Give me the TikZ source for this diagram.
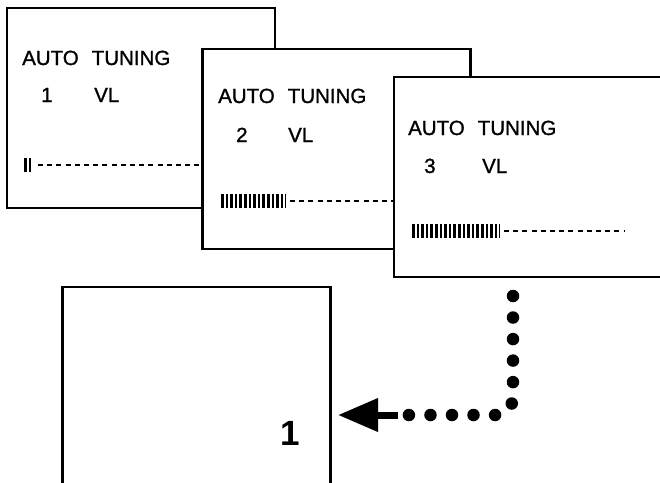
\documentclass[tikz,border=0pt]{standalone}
\usepackage{fontspec}
\setmainfont{Liberation Sans}
\newfontfamily\lcdfont{Liberation Sans}[RawFeature={embolden=1.2}]
\usetikzlibrary{arrows.meta}

\begin{document}
\begin{tikzpicture}[x=1pt,y=-1pt,
  screen/.style={draw, fill=white, line width=2.2pt, minimum width=268pt, minimum height=200pt, inner sep=0pt},
  lcd/.style={inner sep=0pt, anchor=base west, font=\lcdfont\fontsize{20.5}{24}\selectfont},
  bars/.style={line width=14pt, dash pattern=on 2.6pt off 2pt},
  dashes/.style={line width=2.5pt, dash pattern=on 5pt off 4.2pt},
  dots/.style={line width=12.5pt, line cap=round, dash pattern=on 0pt off 21.53pt, rounded corners=18pt}]
\useasboundingbox (0,0) rectangle (660,482);
\clip (0,0) rectangle (660,482);

\node[screen] (scr1) at (141,108) {};
\node[lcd] (auto1) at (22,65) {AUTO\hspace{13pt}TUNING};
\node[lcd] (ch1) at (41,102) {1};
\node[lcd] (vl1) at (94,102) {VL};
\draw[bars] (24,165) -- (31,165);
\draw[dashes] (38,165) -- (204,165);

\node[screen] (scr2) at (336.5,149) {};
\node[lcd] (auto2) at (218,103) {AUTO\hspace{13pt}TUNING};
\node[lcd] (ch2) at (236,142) {2};
\node[lcd] (vl2) at (288,142) {VL};
\draw[bars] (221,201) -- (286,201);
\draw[dashes] (290,201) -- (396,201);

\node[screen] (scr3) at (528,177) {};
\node[lcd] (auto3) at (408,135) {AUTO\hspace{13pt}TUNING};
\node[lcd] (ch3) at (424,173) {3};
\node[lcd] (vl3) at (482,173) {VL};
\draw[bars] (412,231) -- (500,231);
\draw[dashes] (504,231) -- (624,231);

\node[screen] (scr4) at (196.5,387) {};
\node[inner sep=0pt, anchor=base, font=\fontsize{35}{40}\selectfont\bfseries] (big1) at (290,445) {1};

% dotted return path
\coordinate (drop) at (513,296);
\coordinate (bend) at (513,415);
\coordinate (dotend) at (407,415);
\coordinate (tail) at (398,415);
\draw[dots] (drop) -- (bend) -- (dotend);
\draw[line width=7pt, -{Triangle[length=40pt,width=32pt]}, shorten >=6.4pt] (tail) -- (tail -| scr4.east);
\end{tikzpicture}
\end{document}
